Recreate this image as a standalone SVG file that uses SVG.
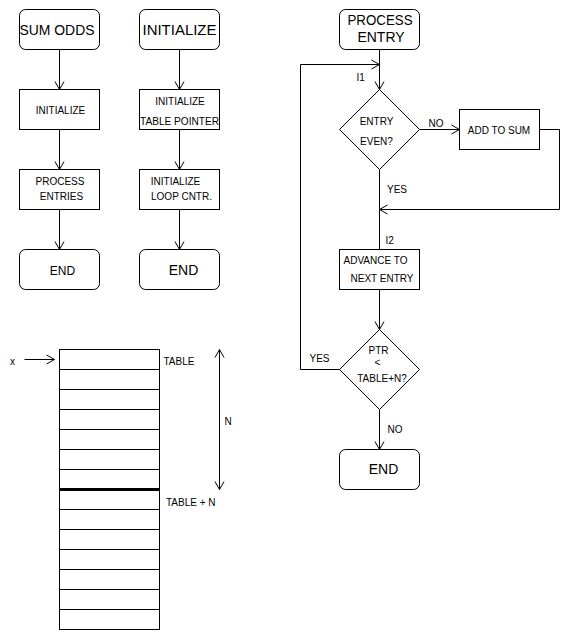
<svg xmlns="http://www.w3.org/2000/svg" width="571" height="641" viewBox="0 0 571 641">
<style>
  .box{fill:#fff;stroke:#000;stroke-width:1}
  .ln{fill:none;stroke:#000;stroke-width:1}
  text{font-family:"Liberation Sans",Arial,sans-serif;fill:#000}
  .s{font-size:10px}
  .m{font-size:14px}
  .l{font-size:15px}
  .c{text-anchor:middle}
</style>
<defs>
  <marker id="ah" viewBox="-10 -6 11 12" refX="0" refY="0" markerWidth="11" markerHeight="12" markerUnits="userSpaceOnUse" orient="auto-start-reverse">
    <path d="M-8,-4.5 L0,0 L-8,4.5" fill="none" stroke="#000" stroke-width="1"/>
  </marker>
</defs>
<rect width="571" height="641" fill="#fff"/>
<g transform="translate(0.5,0.5)">
<g id="connectors">
  <line class="ln" x1="59" y1="49" x2="59" y2="89" marker-end="url(#ah)"/>
  <line class="ln" x1="59" y1="129" x2="59" y2="169" marker-end="url(#ah)"/>
  <line class="ln" x1="59" y1="209" x2="59" y2="249" marker-end="url(#ah)"/>
  <line class="ln" x1="179" y1="49" x2="179" y2="89" marker-end="url(#ah)"/>
  <line class="ln" x1="179" y1="129" x2="179" y2="169" marker-end="url(#ah)"/>
  <line class="ln" x1="179" y1="209" x2="179" y2="249" marker-end="url(#ah)"/>
  <line class="ln" x1="379" y1="49" x2="379" y2="89" marker-end="url(#ah)"/>
  <polyline class="ln" points="339,369 300,369 300,64 379,64" marker-end="url(#ah)"/>
  <line class="ln" x1="419" y1="129" x2="459" y2="129" marker-end="url(#ah)"/>
  <polyline class="ln" points="539,129 559,129 559,209 379,209" marker-end="url(#ah)"/>
  <line class="ln" x1="379" y1="169" x2="379" y2="249"/>
  <line class="ln" x1="379" y1="289" x2="379" y2="329" marker-end="url(#ah)"/>
  <line class="ln" x1="379" y1="409" x2="379" y2="449" marker-end="url(#ah)"/>
  <line class="ln" x1="24" y1="359" x2="54" y2="359" marker-end="url(#ah)"/>
  <line class="ln" x1="219" y1="349" x2="219" y2="489" marker-start="url(#ah)" marker-end="url(#ah)"/>
</g>
<g id="sum-odds">
  <rect class="box" x="19" y="9" width="80" height="40" rx="6"/>
  <text class="l" x="19" y="34" textLength="75" lengthAdjust="spacingAndGlyphs">SUM ODDS</text>
</g>
<g id="initialize-1">
  <rect class="box" x="19" y="89" width="80" height="40"/>
  <text class="s c" x="60" y="113">INITIALIZE</text>
</g>
<g id="process-entries">
  <rect class="box" x="19" y="169" width="80" height="40"/>
  <text class="s c" x="59.5" y="184">PROCESS</text>
  <text class="s c" x="61" y="199">ENTRIES</text>
</g>
<g id="end-1">
  <rect class="box" x="19" y="249" width="80" height="40" rx="6"/>
  <text class="c" style="font-size:12px" x="62" y="274">END</text>
</g>
<g id="initialize-main">
  <rect class="box" x="139" y="9" width="80" height="40" rx="6"/>
  <text class="l" x="142" y="34" textLength="74" lengthAdjust="spacingAndGlyphs">INITIALIZE</text>
</g>
<g id="init-table-pointer">
  <rect class="box" x="139" y="89" width="80" height="40"/>
  <text class="s c" x="179.5" y="104">INITIALIZE</text>
  <text class="s" x="139.5" y="124" textLength="79" lengthAdjust="spacingAndGlyphs">TABLE POINTER</text>
</g>
<g id="init-loop-cntr">
  <rect class="box" x="139" y="169" width="80" height="40"/>
  <text class="s c" x="175" y="184">INITIALIZE</text>
  <text class="s c" x="181" y="199">LOOP CNTR.</text>
</g>
<g id="end-2">
  <rect class="box" x="139" y="249" width="80" height="40" rx="6"/>
  <text class="m c" x="183" y="274">END</text>
</g>
<g id="process-entry">
  <rect class="box" x="339" y="9" width="80" height="40" rx="6"/>
  <text class="l" x="347" y="24" textLength="65" lengthAdjust="spacingAndGlyphs">PROCESS</text>
  <text class="l" x="357" y="41" textLength="47" lengthAdjust="spacingAndGlyphs">ENTRY</text>
</g>
<g id="entry-even">
  <polygon class="box" points="379,89 419,129 379,169 339,129"/>
  <text class="s c" x="376" y="124">ENTRY</text>
  <text class="s c" x="376" y="144">EVEN?</text>
</g>
<g id="add-to-sum">
  <rect class="box" x="459" y="109" width="80" height="40"/>
  <text class="s c" x="498.5" y="133">ADD TO SUM</text>
</g>
<g id="advance">
  <rect class="box" x="339" y="249" width="80" height="40"/>
  <text class="s" x="343" y="263">ADVANCE TO</text>
  <text class="s" x="350" y="281.5">NEXT ENTRY</text>
</g>
<g id="ptr-check">
  <polygon class="box" points="379,329 419,369 379,409 339,369"/>
  <text class="s c" x="378" y="353">PTR</text>
  <text class="s c" x="377" y="365">&lt;</text>
  <text class="s c" x="381.5" y="381">TABLE+N?</text>
</g>
<g id="end-3">
  <rect class="box" x="339" y="449" width="80" height="40" rx="6"/>
  <text class="m c" x="383" y="473">END</text>
</g>
<g id="labels">
  <text class="s" x="356" y="80">I1</text>
  <text class="s" x="428" y="126">NO</text>
  <text class="s" x="386.5" y="192">YES</text>
  <text class="s" x="385" y="243">I2</text>
  <text class="s" x="309" y="361">YES</text>
  <text class="s" x="387" y="432.5">NO</text>
</g>
<g id="table">
  <rect class="box" x="59" y="349" width="100" height="280"/>
  <path class="ln" d="M59,369H159M59,389H159M59,409H159M59,429H159M59,449H159M59,469H159M59,509H159M59,529H159M59,549H159M59,569H159M59,589H159M59,609H159"/>
  <line x1="59" y1="489" x2="159" y2="489" stroke="#000" stroke-width="3"/>
  <text class="s" x="9.5" y="364">x</text>
  <text class="s" x="163" y="364">TABLE</text>
  <text class="s" x="165.5" y="505.5">TABLE + N</text>
  <text class="s" x="224" y="424">N</text>
</g>
</g>
</svg>
